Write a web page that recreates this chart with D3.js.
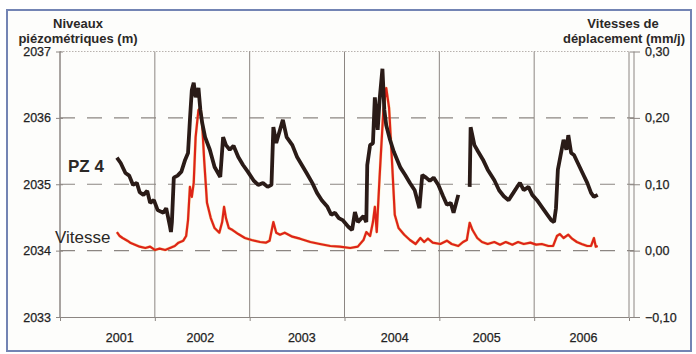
<!DOCTYPE html>
<html><head><meta charset="utf-8">
<script src="https://cdn.jsdelivr.net/npm/d3@7"></script>
<style>html,body{margin:0;padding:0;background:#fff;}svg{display:block;}</style>
</head><body>
<script>
// ---- data (decimal years) ----
const yearLabels = ["2001","2002","2003","2004","2005","2006"];
const yearLabelAt = [2001.13, 2001.98, 2003.05, 2004.03, 2005.00, 2006.02];
const gridYears = [2000.5, 2001.5, 2002.5, 2003.5, 2004.5, 2005.5, 2006.5];
const leftTicks = [2033, 2034, 2035, 2036, 2037];
const rightTicks = [-0.10, 0.00, 0.10, 0.20, 0.30];

const pz4Dates = [2001.10,2001.14,2001.19,2001.23,2001.27,2001.31,2001.34,2001.38,2001.42,2001.45,2001.49,2001.53,2001.59,2001.62,2001.66,2001.67,2001.68,2001.70,2001.74,2001.78,2001.82,2001.85,2001.87,2001.89,2001.91,2001.93,2001.96,2001.98,2002.00,2002.03,2002.08,2002.13,2002.19,2002.22,2002.25,2002.29,2002.33,2002.38,2002.43,2002.48,2002.54,2002.59,2002.64,2002.69,2002.73,2002.75,2002.78,2002.82,2002.85,2002.89,2002.95,2003.00,2003.05,2003.10,2003.16,2003.21,2003.26,2003.32,2003.36,2003.40,2003.44,2003.48,2003.54,2003.58,2003.61,2003.64,2003.70,2003.73,2003.74,2003.77,2003.80,2003.82,2003.85,2003.87,2003.90,2003.92,2003.94,2003.98,2004.02,2004.09,2004.14,2004.19,2004.24,2004.29,2004.32,2004.36,2004.40,2004.44,2004.49,2004.54,2004.58,2004.62,2004.65,2004.70,2004.76,2004.82,2004.83,2004.87,2004.91,2004.96,2005.01,2005.08,2005.13,2005.18,2005.23,2005.28,2005.32,2005.35,2005.39,2005.44,2005.48,2005.53,2005.58,2005.64,2005.68,2005.71,2005.73,2005.75,2005.79,2005.81,2005.84,2005.86,2005.89,2005.92,2005.96,2006.02,2006.06,2006.10,2006.13,2006.17];
const pz4Levels = [2035.40,2035.32,2035.17,2035.13,2034.99,2035.02,2034.88,2034.84,2034.90,2034.72,2034.76,2034.61,2034.57,2034.64,2034.36,2034.28,2034.43,2035.10,2035.13,2035.19,2035.37,2035.47,2035.97,2036.42,2036.53,2036.31,2036.45,2036.12,2035.92,2035.71,2035.52,2035.26,2035.11,2035.71,2035.59,2035.52,2035.58,2035.41,2035.29,2035.19,2035.06,2034.99,2035.02,2034.96,2034.99,2035.86,2035.62,2035.82,2035.97,2035.71,2035.59,2035.41,2035.29,2035.17,2035.02,2034.87,2034.76,2034.66,2034.54,2034.57,2034.49,2034.46,2034.36,2034.31,2034.58,2034.43,2034.52,2034.43,2035.29,2035.59,2035.62,2036.31,2035.82,2036.27,2036.74,2036.12,2035.89,2035.67,2035.49,2035.25,2035.14,2035.02,2034.91,2034.64,2035.14,2035.10,2035.05,2035.10,2034.99,2034.82,2034.69,2034.72,2034.57,2034.84,null,2034.96,2035.86,2035.59,2035.49,2035.37,2035.22,2035.06,2034.91,2034.82,2034.76,2034.87,2034.96,2035.02,2034.91,2034.96,2034.84,2034.76,2034.66,2034.54,2034.46,2034.43,2034.64,2035.22,2035.52,2035.67,2035.52,2035.74,2035.47,2035.44,2035.32,2035.14,2035.02,2034.87,2034.81,2034.84];

const vitDates = [2001.10,2001.13,2001.16,2001.21,2001.24,2001.29,2001.34,2001.40,2001.45,2001.50,2001.55,2001.61,2001.66,2001.71,2001.75,2001.80,2001.83,2001.85,2001.87,2001.89,2001.91,2001.93,2001.96,2001.98,2002.00,2002.02,2002.05,2002.09,2002.13,2002.18,2002.21,2002.23,2002.25,2002.28,2002.32,2002.38,2002.45,2002.52,2002.61,2002.67,2002.71,2002.75,2002.78,2002.82,2002.87,2002.95,2003.03,2003.14,2003.24,2003.35,2003.45,2003.56,2003.64,2003.70,2003.73,2003.77,2003.80,2003.82,2003.84,2003.87,2003.91,2003.94,2003.97,2004.00,2004.03,2004.07,2004.13,2004.19,2004.25,2004.30,2004.34,2004.38,2004.43,2004.51,2004.58,2004.63,2004.70,2004.75,2004.79,2004.82,2004.85,2004.90,2004.95,2005.01,2005.08,2005.14,2005.20,2005.27,2005.33,2005.39,2005.46,2005.52,2005.58,2005.65,2005.70,2005.74,2005.77,2005.81,2005.86,2005.90,2005.95,2006.00,2006.06,2006.10,2006.13,2006.15,2006.17];
const vitValues = [0.028,0.022,0.019,0.015,0.012,0.009,0.006,0.004,0.006,0.001,0.003,0.001,0.004,0.007,0.012,0.015,0.022,0.046,0.096,0.081,0.102,0.171,0.212,0.215,0.189,0.137,0.072,0.049,0.034,0.027,0.043,0.066,0.049,0.034,0.031,0.025,0.019,0.016,0.013,0.012,0.015,0.043,0.027,0.024,0.027,0.021,0.018,0.013,0.010,0.007,0.006,0.004,0.006,0.016,0.028,0.022,0.043,0.066,0.028,0.111,0.212,0.245,0.215,0.137,0.054,0.034,0.024,0.016,0.010,0.019,0.013,0.018,0.012,0.010,0.015,0.010,0.007,0.013,0.016,0.042,0.031,0.019,0.013,0.010,0.013,0.009,0.013,0.009,0.013,0.010,0.012,0.009,0.010,0.007,0.007,0.022,0.025,0.019,0.024,0.018,0.013,0.010,0.007,0.007,0.019,0.006,0.007];

// ---- layout ----
const W = 696, H = 354;
const svg = d3.select("body").append("svg").attr("width", W).attr("height", H);
svg.append("rect").attr("width", W).attr("height", H).attr("fill", "#fff");
svg.append("rect").attr("x", 7).attr("y", 10).attr("width", 684).attr("height", 341)
  .attr("fill", "#fdfdfb").attr("stroke", "#7384b4").attr("stroke-width", 2);

const x = d3.scaleLinear().domain([2000.5, 2006.5]).range([60, 629]);
const yL = d3.scaleLinear().domain([2033, 2037]).range([317, 51.5]);
const yR = d3.scaleLinear().domain([-0.10, 0.30]).range([317, 51.5]);

const gridCol = "#8c8682";
const g = svg.append("g");

// horizontal gridlines
g.selectAll("line.hg").data([2034, 2035, 2036]).join("line")
  .attr("x1", x(2000.5)).attr("x2", 634).attr("y1", d => yL(d)).attr("y2", d => yL(d))
  .attr("stroke", gridCol).attr("stroke-width", 1.2).attr("stroke-dasharray", "15,12");
g.append("line").attr("x1", x(2000.5)).attr("x2", x(2006.5)).attr("y1", yL(2037)).attr("y2", yL(2037))
  .attr("stroke", "#b8b2ae").attr("stroke-width", 1).attr("stroke-dasharray", "1.5,1.5");

// vertical gridlines
g.selectAll("line.vg").data(gridYears).join("line")
  .attr("x1", d => x(d)).attr("x2", d => x(d)).attr("y1", yL(2037)).attr("y2", yL(2033))
  .attr("stroke", gridCol).attr("stroke-width", 1);

// bottom axis
const xAxis = d3.axisBottom(x).tickValues(gridYears.slice(1, 6)).tickSize(4).tickFormat("");
const xa = g.append("g").attr("transform", `translate(0,${yL(2033)})`).call(xAxis);
xa.select(".domain").attr("stroke", gridCol);
xa.selectAll(".tick line").attr("stroke", gridCol);
g.selectAll("text.yr").data(yearLabels).join("text")
  .attr("x", (d, i) => x(yearLabelAt[i])).attr("y", 342).attr("text-anchor", "middle")
  .attr("font-family", "Liberation Sans, Arial, sans-serif").attr("font-size", 12.5)
  .attr("fill", "#222").attr("stroke", "#222").attr("stroke-width", 0.25).text(d => d);

// left axis
const la = g.append("g").attr("transform", `translate(60,0)`)
  .call(d3.axisLeft(yL).tickValues(leftTicks).tickSize(4).tickFormat(d3.format("d")));
la.select(".domain").attr("stroke", gridCol).attr("d", `M0,${yL(2037)}V${yL(2033)}`);
la.selectAll(".tick line").attr("stroke", gridCol).attr("x1", 3);
la.selectAll(".tick text").attr("font-family", "Liberation Sans, Arial, sans-serif")
  .attr("font-size", 12.5).attr("fill", "#222").attr("stroke", "#222").attr("stroke-width", 0.25).attr("x", -9);

// right axis
const ra = g.append("g").attr("transform", `translate(634,0)`)
  .call(d3.axisRight(yR).tickValues(rightTicks).tickSize(6).tickFormat(d => d3.format(".2f")(d).replace(".", ",")));
ra.select(".domain").attr("stroke", gridCol).attr("d", `M0,${yR(0.30)}V${yR(-0.10)}`);
ra.selectAll(".tick line").attr("stroke", gridCol).attr("x1", -4);
ra.selectAll(".tick text").attr("font-family", "Liberation Sans, Arial, sans-serif")
  .attr("font-size", 12.5).attr("fill", "#222").attr("stroke", "#222").attr("stroke-width", 0.25).attr("x", 11);

// lines
const pzData = pz4Dates.map((d, i) => ({ t: d, v: pz4Levels[i] }));
const vData = vitDates.map((d, i) => ({ t: d, v: vitValues[i] }));
const pzLine = d3.line().defined(d => d.v !== null).x(d => x(d.t)).y(d => yL(d.v));
const vLine = d3.line().x(d => x(d.t)).y(d => yR(d.v));

g.append("path").datum(vData).attr("d", vLine).attr("fill", "none")
  .attr("stroke", "#f0b840").attr("stroke-width", 3).attr("stroke-linejoin", "round").attr("opacity", 0.45);
g.append("path").datum(vData).attr("d", vLine).attr("fill", "none")
  .attr("stroke", "#de2418").attr("stroke-width", 2.2).attr("stroke-linejoin", "round");
g.append("path").datum(pzData).attr("d", pzLine).attr("fill", "none")
  .attr("stroke", "#2a1b17").attr("stroke-width", 3.8).attr("stroke-linejoin", "bevel");

// labels
const F = "Liberation Sans, Arial, sans-serif";
const lab = (t, xx, yy, size, weight, anchor) => svg.append("text").attr("x", xx).attr("y", yy)
  .attr("font-family", F).attr("font-size", size).attr("font-weight", weight)
  .attr("text-anchor", anchor).attr("fill", "#2b2826").text(t);
lab("Niveaux", 78, 28, 13, "bold", "middle");
lab("piézométriques (m)", 78, 43, 13, "bold", "middle");
lab("Vitesses de", 623, 28, 13, "bold", "middle");
lab("déplacement (mm/j)", 624, 43, 13, "bold", "middle");
lab("PZ 4", 68, 172, 17, "bold", "start");
lab("Vitesse", 55, 243, 17, "normal", "start");
</script>
</body></html>
